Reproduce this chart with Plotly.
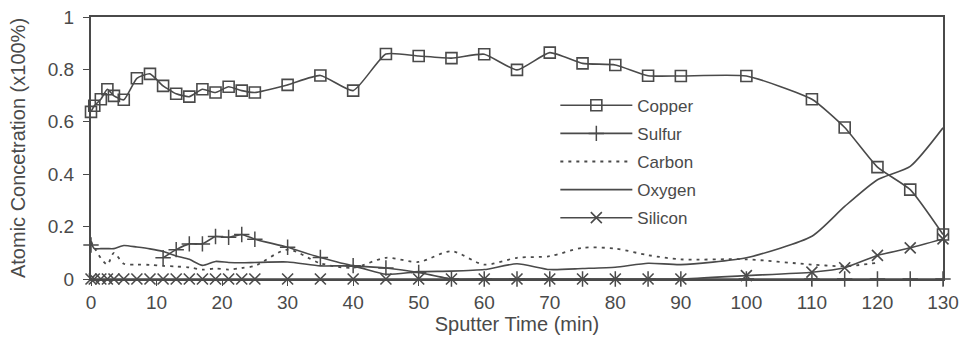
import plotly.graph_objects as go

# Sputter time (min)
time_min = [0, 0.5, 1.5, 2.5, 3.5, 5, 7, 9, 11, 13, 15, 17, 19, 21, 23, 25,
            30, 35, 40, 45, 50, 55, 60, 65, 70, 75, 80, 85, 90, 100, 110, 115,
            120, 125, 130]

copper = [0.638, 0.661, 0.686, 0.724, 0.699, 0.684, 0.766, 0.783, 0.737, 0.707,
          0.696, 0.724, 0.712, 0.734, 0.719, 0.712, 0.741, 0.777, 0.719, 0.859,
          0.851, 0.843, 0.858, 0.798, 0.864, 0.823, 0.817, 0.776, 0.775, 0.775,
          0.686, 0.578, 0.427, 0.341, 0.17]

sulfur = [0.13, None, None, None, None, None, None, None, 0.081, 0.112,
          0.134, 0.134, 0.162, 0.159, 0.17, 0.152, 0.121, 0.082, 0.051, 0.042,
          0.025, 0.0, 0.0, 0.0, 0.0, 0.0, 0.0, 0.0, 0.0, 0.0,
          0.0, 0.0, 0.0, 0.0, 0.0]

carbon = [0.144, 0.12, 0.08, 0.055, 0.10, 0.058, 0.055, 0.054, 0.05, 0.048,
          0.044, 0.036, 0.04, 0.036, 0.042, 0.05, 0.112, 0.06, 0.043, 0.081,
          0.065, 0.106, 0.055, 0.081, 0.087, 0.119, 0.116, 0.091, 0.075, 0.075,
          0.055, 0.049, 0.062, None, None]

oxygen = [0.14, 0.116, 0.116, 0.116, 0.116, 0.128, 0.122, 0.115, 0.105, 0.088,
          0.075, 0.052, 0.067, 0.063, 0.062, 0.063, 0.065, 0.05, 0.049, 0.018,
          0.028, 0.03, 0.036, 0.058, 0.036, 0.04, 0.045, 0.06, 0.055, 0.081,
          0.163, 0.277, 0.379, 0.43, 0.577]

silicon = [0.0] * 29 + [0.013, 0.026, 0.043, 0.09, 0.119, 0.153]

x_ticks = list(range(0, 131, 10))
y_ticks = [0, 0.2, 0.4, 0.6, 0.8, 1]
y_tick_labels = ["0", "0.2", "0.4", "0.6", "0.8", "1"]

INK = "#4a4a4a"
FONT = "Liberation Sans, Arial, sans-serif"
NBSP = "\u00a0"

fig = go.Figure()

fig.add_trace(go.Scatter(
    x=time_min, y=copper, name="Copper", mode="lines+markers", legendgroup="a",
    cliponaxis=False,
    line=dict(color=INK, width=1.6, shape="spline", smoothing=0.5),
    marker=dict(symbol="square-open", size=11, color=INK, line=dict(width=1.6))))

fig.add_trace(go.Scatter(
    x=time_min, y=sulfur, name="Sulfur", mode="lines+markers", legendgroup="b",
    cliponaxis=False,
    line=dict(color=INK, width=1.6, shape="spline", smoothing=0.5),
    marker=dict(symbol="cross-thin-open", size=11, color=INK, line=dict(width=1.5, color=INK))))

fig.add_trace(go.Scatter(
    x=time_min, y=carbon, name="Carbon", mode="lines", legendgroup="c",
    cliponaxis=False,
    line=dict(color=INK, width=1.8, dash="3px,5px", shape="spline", smoothing=0.8)))

fig.add_trace(go.Scatter(
    x=time_min, y=oxygen, name="Oxygen", mode="lines", legendgroup="d",
    cliponaxis=False,
    line=dict(color=INK, width=1.6, shape="spline", smoothing=0.6)))

fig.add_trace(go.Scatter(
    x=time_min, y=silicon, name="Silicon", mode="lines+markers", legendgroup="e",
    cliponaxis=False,
    line=dict(color=INK, width=1.6, shape="spline", smoothing=0.5),
    marker=dict(symbol="x-thin-open", size=11, color=INK, line=dict(width=1.6, color=INK))))

fig.update_layout(
    width=964, height=353,
    margin=dict(l=91, r=21, t=17, b=74),
    paper_bgcolor="white", plot_bgcolor="white",
    font=dict(family=FONT, color=INK, size=16),
    showlegend=True,
    legend=dict(x=0.545, y=0.73, xanchor="left", yanchor="top",
                bgcolor="rgba(0,0,0,0)", font=dict(size=17, family=FONT, color=INK),
                itemwidth=72, tracegroupgap=3),
)

fig.update_xaxes(
    range=[0, 130], tickvals=x_ticks, ticktext=[str(t) for t in x_ticks],
    showline=True, linecolor=INK, linewidth=1.6, mirror=True,
    ticks="outside", ticklen=5, tickcolor=INK, tickwidth=1.2,
    showgrid=False, zeroline=False, automargin=False,
    tickfont=dict(family=FONT, size=19, color=INK),
    title=dict(text="Sputter Time (min)", font=dict(family=FONT, size=20, color=INK), standoff=0),
)

fig.update_yaxes(
    range=[0, 1], tickvals=y_ticks, ticktext=[t + NBSP for t in y_tick_labels],
    showline=True, linecolor=INK, linewidth=1.6, mirror=True,
    ticks="outside", ticklen=6, tickcolor=INK, tickwidth=1.2,
    showgrid=False, zeroline=False, automargin=False,
    tickfont=dict(family=FONT, size=19, color=INK),
    title=dict(text="Atomic Concetration (x100%)", font=dict(family=FONT, size=20, color=INK), standoff=17),
)

fig.write_html("out.html", config={"displayModeBar": False},
               post_script="document.body.style.margin='0';document.body.style.overflow='hidden';")
